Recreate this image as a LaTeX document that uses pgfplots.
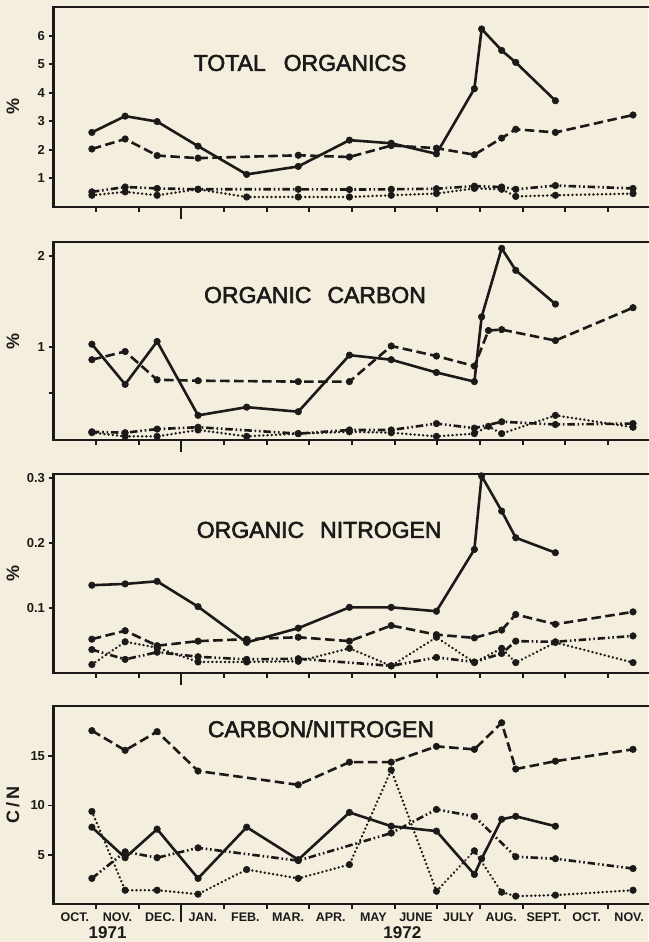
\documentclass[border=0pt]{standalone}
\usepackage{fontspec}
\setmainfont{Liberation Sans}
\usepackage{pgfplots}
\pgfplotsset{compat=1.18}
\definecolor{paper}{RGB}{243,238,222}
\definecolor{ink}{RGB}{28,26,24}

\pgfplotsset{
  panel/.style={
    scale only axis, width=597pt, anchor=north west,
    xmin=0, xmax=14, clip=false,
    axis line style={line width=2.2pt, draw=ink},
    tick style={line width=1.9pt, draw=ink},
    xtick pos=bottom, ytick pos=left,
    tick align=outside, major tick length=5pt,
    xtick={1,...,14}, xticklabels={},
    extra x ticks={3}, extra x tick labels={},
    extra x tick style={major tick length=12pt},
    /pgf/number format/assume math mode=true,
    yticklabel style={font=\bfseries\fontsize{13}{13}\selectfont, text=ink},
    xticklabel style={font=\bfseries\fontsize{12.5}{12.5}\selectfont, text=ink},
    every axis y label/.style={at={(axis description cs:-0.068,0.5)}, anchor=center, rotate=90,
      font=\bfseries\fontsize{18}{18}\selectfont, text=ink},
  },
  sS/.style={draw=ink, line width=2.6pt, mark=*, mark size=3.3pt, mark options={solid, fill=ink, draw=ink, line width=0.5pt}},
  dS/.style={sS, dash pattern=on 9.5pt off 4.5pt},
  ddS/.style={sS, dash pattern=on 7.5pt off 2.8pt on 1.6pt off 2.8pt on 1.6pt off 2.8pt},
  oS/.style={sS, line width=2.7pt, line cap=round, dash pattern=on 0.01pt off 4.2pt},
}
\newcommand{\ttl}{\fontsize{23}{23}\selectfont\addfontfeature{FakeBold=2.5}\color{ink}}

\begin{document}
\begin{tikzpicture}
\useasboundingbox (0pt,0pt) rectangle (648pt,-942pt);
\fill[paper] (0pt,0pt) rectangle (648pt,-942pt);

% ---------------- TOTAL ORGANICS
\begin{axis}[panel, at={(53.5pt,-7pt)}, height=200pt, ymin=0, ymax=7,
  ytick={1,2,3,4,5,6}, yticklabels={1,2,3,4,5,6}, ylabel={\%}]
\addplot[sS] coordinates {(0.90,2.61)(1.68,3.18)(2.43,2.99)(3.39,2.13)(4.53,1.14)(5.74,1.42)(6.94,2.34)(7.92,2.23)(8.98,1.86)(9.87,4.14)(10.04,6.23)(10.51,5.48)(10.84,5.06)(11.77,3.72)};
\addplot[dS] coordinates {(0.90,2.03)(1.68,2.38)(2.43,1.80)(3.39,1.71)(5.74,1.81)(6.94,1.75)(7.92,2.15)(8.98,2.06)(9.87,1.83)(10.51,2.41)(10.84,2.72)(11.77,2.61)(13.59,3.22)};
\addplot[ddS] coordinates {(0.90,0.53)(1.68,0.70)(2.43,0.65)(3.39,0.62)(5.74,0.62)(6.94,0.61)(7.92,0.62)(8.98,0.64)(9.87,0.73)(10.51,0.70)(10.84,0.62)(11.77,0.75)(13.59,0.65)};
\addplot[oS] coordinates {(0.90,0.41)(1.68,0.53)(2.43,0.41)(3.39,0.62)(4.53,0.35)(5.74,0.35)(6.94,0.35)(7.92,0.41)(8.98,0.47)(9.87,0.65)(10.51,0.62)(10.84,0.37)(11.77,0.41)(13.59,0.47)};
\node[font=\ttl] at (axis description cs:0.413,0.72) {TOTAL\hspace{18pt}ORGANICS};
\end{axis}

% ---------------- ORGANIC CARBON
\begin{axis}[panel, at={(53.5pt,-242pt)}, height=198pt, ymin=-0.02, ymax=2.15,
  ytick={0.5,1,2}, yticklabels={{},1,2}, ylabel={\%}]
\addplot[sS] coordinates {(0.90,1.03)(1.68,0.59)(2.43,1.06)(3.39,0.25)(4.53,0.34)(5.74,0.29)(6.94,0.91)(7.92,0.86)(8.98,0.72)(9.87,0.62)(10.04,1.33)(10.51,2.08)(10.84,1.84)(11.77,1.47)};
\addplot[dS] coordinates {(0.90,0.86)(1.68,0.95)(2.43,0.64)(3.39,0.63)(5.74,0.62)(6.94,0.62)(7.92,1.01)(8.98,0.90)(9.87,0.79)(10.2,1.18)(10.51,1.19)(11.77,1.07)(13.59,1.43)};
\addplot[ddS] coordinates {(0.90,0.07)(1.68,0.06)(2.43,0.10)(3.39,0.12)(5.74,0.05)(6.94,0.09)(7.92,0.09)(8.98,0.16)(9.87,0.11)(10.51,0.18)(11.77,0.15)(13.59,0.16)};
\addplot[oS] coordinates {(0.90,0.06)(1.68,0.02)(2.43,0.02)(3.39,0.09)(4.53,0.02)(5.74,0.05)(6.94,0.07)(7.92,0.06)(8.98,0.02)(9.87,0.05)(10.2,0.13)(10.51,0.05)(11.77,0.25)(13.59,0.12)};
\node[font=\ttl] at (axis description cs:0.438,0.732) {ORGANIC\hspace{16pt}CARBON};
\end{axis}

% ---------------- ORGANIC NITROGEN
\begin{axis}[panel, at={(53.5pt,-474pt)}, height=199pt, ymin=0, ymax=0.306,
  ytick={0.1,0.2,0.3}, yticklabels={0.1,0.2,0.3}, ylabel={\%}]
\addplot[sS] coordinates {(0.90,0.135)(1.68,0.137)(2.43,0.141)(3.39,0.102)(4.53,0.047)(5.74,0.069)(6.94,0.101)(7.92,0.101)(8.98,0.095)(9.87,0.190)(10.04,0.303)(10.51,0.249)(10.84,0.208)(11.77,0.185)};
\addplot[dS] coordinates {(0.90,0.052)(1.68,0.065)(2.43,0.042)(3.39,0.049)(4.53,0.052)(5.74,0.055)(6.94,0.049)(7.92,0.073)(8.98,0.059)(9.87,0.054)(10.51,0.066)(10.84,0.090)(11.77,0.075)(13.59,0.094)};
\addplot[ddS] coordinates {(0.90,0.036)(1.68,0.021)(2.43,0.032)(3.39,0.025)(4.53,0.021)(5.74,0.022)(7.92,0.011)(8.98,0.024)(9.87,0.017)(10.51,0.030)(10.84,0.049)(11.77,0.048)(13.59,0.057)};
\addplot[oS] coordinates {(0.90,0.013)(1.68,0.048)(2.43,0.039)(3.39,0.017)(4.53,0.017)(5.74,0.018)(6.94,0.038)(7.92,0.011)(8.98,0.055)(9.87,0.016)(10.51,0.038)(10.84,0.016)(11.77,0.047)(13.59,0.016)};
\node[font=\ttl] at (axis description cs:0.445,0.719) {ORGANIC\hspace{16pt}NITROGEN};
\end{axis}

% ---------------- CARBON/NITROGEN
\begin{axis}[panel, at={(53.5pt,-706pt)}, height=198pt, ymin=0, ymax=20.1,
  ytick={5,10,15}, yticklabels={5,10,15}, ylabel={C\,/\,N},
  xticklabels={OCT.,NOV.,DEC.,JAN.,FEB.,MAR.,APR.,MAY,JUNE,JULY,AUG.,SEPT.,OCT.,NOV.},
  xticklabel style={xshift=-21.32pt},
  extra x tick style={major tick length=18pt}]
\addplot[sS] coordinates {(0.90,7.8)(1.68,4.7)(2.43,7.6)(3.39,2.6)(4.53,7.8)(5.74,4.5)(6.94,9.3)(7.92,7.9)(8.98,7.4)(9.87,3.0)(10.04,4.6)(10.51,8.6)(10.84,8.9)(11.77,7.9)};
\addplot[dS] coordinates {(0.90,17.6)(1.68,15.6)(2.43,17.5)(3.39,13.5)(5.74,12.1)(6.94,14.4)(7.92,14.4)(8.98,16.0)(9.87,15.7)(10.51,18.4)(10.84,13.7)(11.77,14.5)(13.59,15.7)};
\addplot[ddS] coordinates {(0.90,2.6)(1.68,5.3)(2.43,4.7)(3.39,5.7)(5.74,4.4)(7.92,7.2)(8.98,9.6)(9.87,8.9)(10.84,4.8)(11.77,4.6)(13.59,3.6)};
\addplot[oS] coordinates {(0.90,9.4)(1.68,1.4)(2.43,1.4)(3.39,1.0)(4.53,3.5)(5.74,2.6)(6.94,4.0)(7.92,13.6)(8.98,1.3)(9.87,5.4)(10.51,1.2)(10.84,0.8)(11.77,0.9)(13.59,1.4)};
\node[font=\ttl] at (axis description cs:0.448,0.884) {CARBON/NITROGEN};
\node[font=\bfseries\fontsize{17}{17}\selectfont, text=ink, yshift=-29pt] at (axis cs:1.27,0) {1971};
\node[font=\bfseries\fontsize{17}{17}\selectfont, text=ink, yshift=-29pt] at (axis cs:8.18,0) {1972};
\end{axis}
\end{tikzpicture}
\end{document}
